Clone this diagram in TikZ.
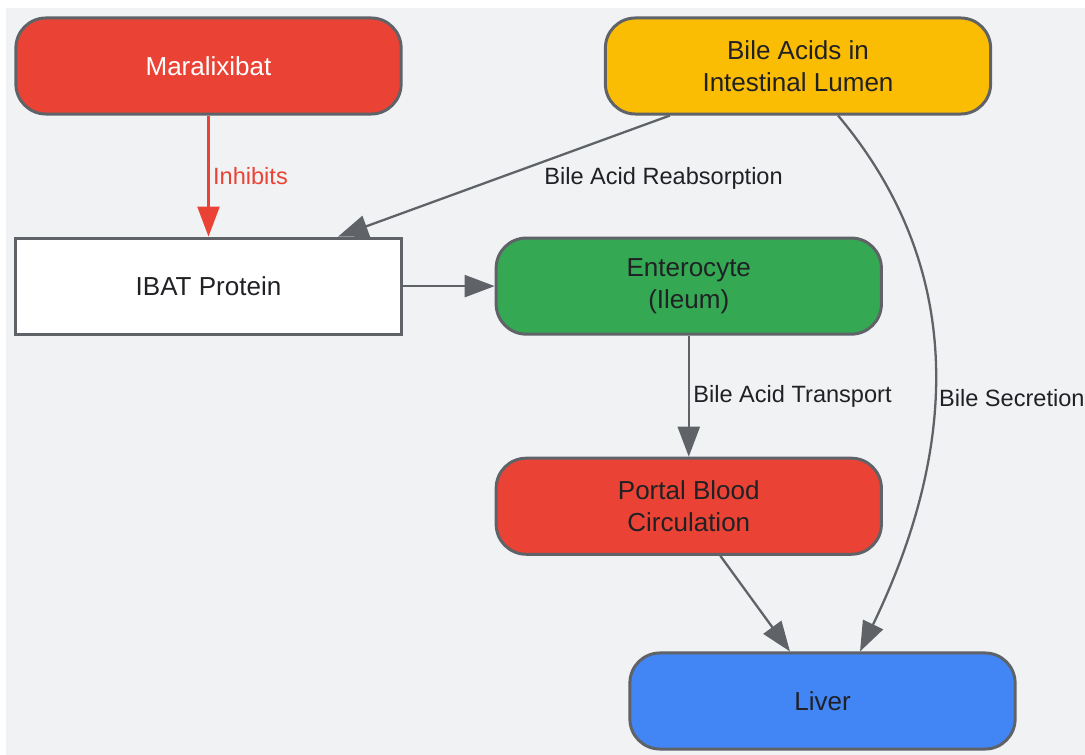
\documentclass[tikz,border=0pt]{standalone}
\usepackage{fontspec}
\setmainfont{Liberation Sans}
\usetikzlibrary{positioning,arrows.meta}
\definecolor{bgGray}{HTML}{F1F2F4}
\definecolor{lineGray}{HTML}{5F6368}
\definecolor{gRed}{HTML}{EA4335}
\definecolor{gYellow}{HTML}{FBBC04}
\definecolor{gGreen}{HTML}{34A853}
\definecolor{gBlue}{HTML}{4285F4}
\definecolor{txtDark}{HTML}{202124}

\tikzset{
  box/.style={draw=lineGray, line width=0.85pt, rounded corners=0.3cm, minimum width=3.85cm, minimum height=0.96cm, align=center, text=txtDark, font=\fontsize{7.4}{9.1}\selectfont},
  lbl/.style={font=\fontsize{6.7}{8}\selectfont, text=txtDark, inner sep=1pt},
  flow/.style={draw=lineGray, line width=0.65pt, -{Triangle[length=3mm,width=2.2mm]}}
}

\begin{document}
\begin{tikzpicture}[x=0.01cm,y=-0.01cm,node distance=1.21cm]
  \useasboundingbox (0,0) rectangle (1085,755);
  \fill[bgGray] (6,8) rectangle (1085,755);

  \node[box, fill=gRed, text=white] (mar) at (208.5,66) {Maralixibat};
  \node[box, fill=white, sharp corners] (ibat) [below=of mar] {IBAT Protein};
  \node[box, fill=gGreen] (ent) [right=0.92cm of ibat] {Enterocyte\\(Ileum)};
  \node[box, fill=gRed] (portal) [below=of ent] {Portal Blood\\Circulation};
  \node[box, fill=gYellow] (bile) at (798,66) {Bile Acids in\\Intestinal Lumen};
  \node[box, fill=gBlue] (liver) at (822.5,701) {Liver};

  \path (mar) edge[flow, draw=gRed] node[lbl, right, text=gRed] {Inhibits} (ibat);
  \path ([xshift=-1.28cm]bile.south) edge[flow] node[lbl, pos=0.516, anchor=west, xshift=0.41cm] {Bile Acid Reabsorption} ([xshift=1.295cm]ibat.north);
  \path (ibat) edge[flow] (ent);
  \path (ent) edge[flow] node[lbl, right] {Bile Acid Transport} (portal);
  \path ([xshift=0.315cm]portal.south) edge[flow] ([xshift=-0.325cm]liver.north);
  \draw[flow] ([xshift=0.4cm]bile.south) .. controls (988,294) and (938,490) .. ([xshift=0.375cm]liver.north)
    node[lbl, pos=0.5, anchor=west, yshift=-0.08cm] {Bile Secretion};
\end{tikzpicture}
\end{document}
